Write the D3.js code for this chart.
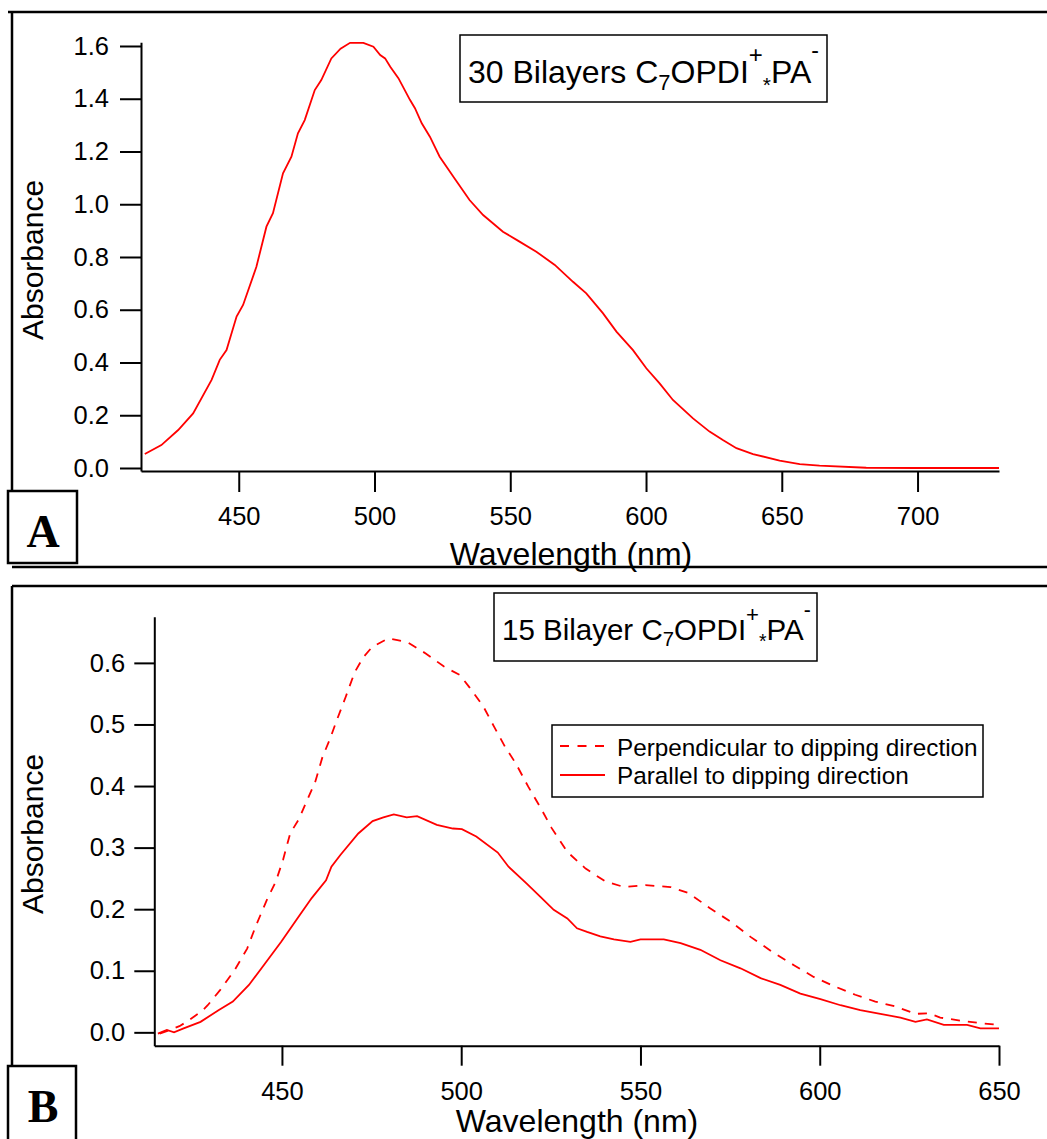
<!DOCTYPE html>
<html lang="en">
<head>
  <meta charset="UTF-8"/>
  <title>Absorbance spectra C7OPDI+*PA-</title>
  <script src="https://d3js.org/d3.v7.min.js"></script>
  <style>
    body { margin: 0; background: #fff; }
    svg { display: block; }
    text { font-family: "Liberation Sans", Arial, sans-serif; fill: #000; }
    .tick text { font-size: 25.5px; }
    .axis path, .axis line { stroke: #000; stroke-width: 2; }
    .label { font-size: 32px; }
    .ylabel { font-size: 30px; }
    .panel { font-family: "Liberation Serif", "Times New Roman", serif; font-weight: bold; font-size: 46px; }
    .frame { stroke: #000; stroke-width: 2.5; fill: none; }
    .spec { fill: none; stroke: #ff0000; stroke-width: 1.8; }
  </style>
</head>
<body>
<svg width="1047" height="1139"></svg>
<script>
  // panel A : 30 bilayers
  const wavelengthA = [415.4, 421.5, 427.7, 433.2, 440, 443, 445.5, 449.2, 451.6, 456.5, 460.2, 462.6, 466.3, 469.4,
    471.8, 474.3, 478, 480.4, 484.1, 487.5, 491, 495.9, 499.6, 502.1, 503.9, 505.8, 508.8, 513.1, 514.9, 517.4,
    520.4, 524, 529.5, 535, 540, 547.3, 552.8, 559.6, 566.4, 573.1, 578, 584.1, 589.1, 595.2, 600.1, 605, 609.9,
    617.3, 623.4, 628.3, 633.3, 639.4, 649.2, 656.6, 663.9, 681.1, 700, 730]
  const absorbA = [0.053, 0.087, 0.144, 0.207, 0.334, 0.41, 0.447, 0.574, 0.618, 0.763, 0.915, 0.966, 1.117, 1.18,
    1.269, 1.319, 1.433, 1.471, 1.553, 1.59, 1.612, 1.612, 1.597, 1.566, 1.553, 1.521, 1.478, 1.395, 1.364, 1.307,
    1.256, 1.18, 1.098, 1.016, 0.959, 0.896, 0.862, 0.82, 0.77, 0.706, 0.662, 0.587, 0.517, 0.447, 0.378, 0.321, 0.258,
    0.188, 0.138, 0.106, 0.075, 0.053, 0.028, 0.015, 0.009, 0.001, 0, 0]

  // panel B : 15 bilayers, parallel (solid)
  const wavelengthPar = [415.4, 417.9, 419.9, 422.4, 427.3, 432.3, 436.3, 440.8, 444.3, 449.8, 454.3, 458.3, 462.3,
    463.8, 466.3, 471.3, 475.3, 478.3, 481.2, 484.8, 487.7, 493.2, 497.7, 500.2, 504.2, 510.2, 513.2, 518.2, 522.1,
    525.8, 529.6, 532.3, 535.1, 538.8, 542.6, 547.2, 550, 556.5, 561.2, 566.7, 572.3, 577.9, 583.5, 589, 594.6,
    600.2, 605.8, 611.3, 616.9, 622.5, 626.7, 629.9, 634.6, 641.1, 644.8, 650]
  const absorbPar = [-0.002, 0.004, 0, 0.006, 0.017, 0.036, 0.05, 0.077, 0.104, 0.147, 0.185, 0.218, 0.247,
    0.269, 0.288, 0.323, 0.343, 0.349, 0.354, 0.349, 0.351, 0.337, 0.331, 0.33, 0.318, 0.292, 0.269, 0.242, 0.22,
    0.199, 0.185, 0.169, 0.163, 0.156, 0.151, 0.147, 0.151, 0.151, 0.145, 0.134, 0.117, 0.104, 0.088, 0.077, 0.063,
    0.054, 0.044, 0.036, 0.03, 0.024, 0.017, 0.021, 0.012, 0.012, 0.0065, 0.0065]

  // panel B : perpendicular (dashed)
  const wavelengthPerp = [415.9, 418.4, 421.4, 423.4, 427.8, 429.3, 432.8, 436.8, 440.3, 442.8, 445.8, 448.3, 450.3,
    452.3, 454.8, 456.8, 459.3, 461.3, 463.3, 465.3, 467.8, 470.3, 472.8, 475.2, 479.7, 482.2, 485.2, 490.2, 495.2,
    499.7, 502.2, 506.2, 509.2, 512.2, 515.2, 518.7, 522.2, 525.2, 529.6, 534.7, 540.2, 545.4, 551.4, 558.4, 563.5,
    569.5, 575.1, 580.7, 586.7, 592.8, 598.3, 604.4, 609.9, 615.5, 621.1, 626.7, 630.4, 633.6, 639.2, 644.8, 650]
  const absorbPerp = [-0.002, 0.003, 0.01, 0.017, 0.035, 0.044, 0.069, 0.101, 0.136, 0.174, 0.215, 0.245, 0.28,
    0.323, 0.347, 0.374, 0.407, 0.447, 0.475, 0.507, 0.545, 0.585, 0.61, 0.626, 0.64, 0.637, 0.633, 0.615, 0.594,
    0.58, 0.561, 0.529, 0.496, 0.464, 0.437, 0.399, 0.364, 0.332, 0.293, 0.266, 0.245, 0.236, 0.239, 0.236, 0.226,
    0.201, 0.18, 0.155, 0.131, 0.109, 0.09, 0.074, 0.061, 0.05, 0.042, 0.03, 0.031, 0.024, 0.019, 0.015, 0.012]

  const xTicksA = [450, 500, 550, 600, 650, 700]
  const yTicksA = [0, 0.2, 0.4, 0.6, 0.8, 1.0, 1.2, 1.4, 1.6]
  const xTicksB = [450, 500, 550, 600, 650]
  const yTicksB = [0, 0.1, 0.2, 0.3, 0.4, 0.5, 0.6]
  const legendNames = ['Perpendicular to dipping direction', 'Parallel to dipping direction']

  const svg = d3.select('svg')

  // rich text with sub / superscripts, shift is px below the baseline
  function richText(x, y, parts) {
    const t = svg.append('text').attr('x', x).attr('y', y)
    let prev = 0
    parts.forEach(p => {
      t.append('tspan')
        .attr('dy', p.shift - prev)
        .style('font-size', p.size + 'px')
        .text(p.t)
      prev = p.shift
    })
    return t
  }

  function titleParts(first, s) {
    const k = s / 32
    return [
      { t: first, size: s, shift: 0 },
      { t: '7', size: 22 * k, shift: 7 * k },
      { t: 'OPDI', size: s, shift: 0 },
      { t: '+', size: 24 * k, shift: -20 * k },
      { t: '*', size: 21 * k, shift: 9 * k },
      { t: 'PA', size: s, shift: 0 },
      { t: '-', size: 23 * k, shift: -25 * k }
    ]
  }

  // ---------- frames ----------
  svg.append('path').attr('class', 'frame')
    .attr('d', 'M8,12H1047M12,12V491M12,567H1047M12,586H1047M12,586V1066')
  svg.append('rect').attr('class', 'frame').attr('x', 8).attr('y', 491).attr('width', 69).attr('height', 72)
  svg.append('rect').attr('class', 'frame').attr('x', 8).attr('y', 1066).attr('width', 68).attr('height', 90)
  svg.append('text').attr('class', 'panel').attr('x', 43).attr('y', 547).attr('text-anchor', 'middle').text('A')
  svg.append('text').attr('class', 'panel').attr('x', 43).attr('y', 1122).attr('text-anchor', 'middle').text('B')

  // ---------- panel A ----------
  const xA = d3.scaleLinear().domain([414, 730]).range([141, 999])
  const yA = d3.scaleLinear().domain([-0.0114, 1.614]).range([471, 42.3])

  svg.append('g').attr('class', 'axis')
    .attr('transform', 'translate(0,471)')
    .call(d3.axisBottom(xA).tickValues(xTicksA).tickFormat(d3.format('d'))
      .tickSize(21).tickSizeOuter(0).tickPadding(15))
  svg.append('g').attr('class', 'axis')
    .attr('transform', 'translate(141,0)')
    .call(d3.axisLeft(yA).tickValues(yTicksA).tickFormat(d3.format('.1f'))
      .tickSize(21).tickSizeOuter(0).tickPadding(11))
  svg.selectAll('.axis text').attr('font-family', null).attr('font-size', null)

  svg.append('path')
    .datum(d3.zip(wavelengthA, absorbA))
    .attr('class', 'spec')
    .attr('d', d3.line().x(d => xA(d[0])).y(d => yA(d[1])))

  svg.append('text').attr('class', 'label')
    .attr('x', 571).attr('y', 565).attr('text-anchor', 'middle').text('Wavelength (nm)')
  svg.append('text').attr('class', 'ylabel')
    .attr('transform', 'translate(43,260) rotate(-90)').attr('text-anchor', 'middle').text('Absorbance')

  svg.append('rect').attr('x', 460).attr('y', 35).attr('width', 367).attr('height', 67)
    .attr('fill', '#fff').attr('stroke', '#000').attr('stroke-width', 1.5)
  richText(468, 83, titleParts('30 Bilayers C', 32))

  // ---------- panel B ----------
  const xB = d3.scaleLinear().domain([414.4, 650]).range([154.3, 999])
  const yB = d3.scaleLinear().domain([-0.0217, 0.675]).range([1045.7, 616.7])

  svg.append('g').attr('class', 'axis')
    .attr('transform', 'translate(0,1045.7)')
    .call(d3.axisBottom(xB).tickValues(xTicksB).tickFormat(d3.format('d'))
      .tickSize(20).tickSizeOuter(0).tickPadding(16))
  svg.append('g').attr('class', 'axis')
    .attr('transform', 'translate(154.3,0)')
    .call(d3.axisLeft(yB).tickValues(yTicksB).tickFormat(d3.format('.1f'))
      .tickSize(20).tickSizeOuter(0).tickPadding(9))
  svg.selectAll('.axis text').attr('font-family', null).attr('font-size', null)

  const lineB = d3.line().x(d => xB(d[0])).y(d => yB(d[1]))
  svg.append('path')
    .datum(d3.zip(wavelengthPerp, absorbPerp))
    .attr('class', 'spec')
    .attr('stroke-dasharray', '9,8')
    .attr('d', lineB)
  svg.append('path')
    .datum(d3.zip(wavelengthPar, absorbPar))
    .attr('class', 'spec')
    .attr('d', lineB)

  svg.append('text').attr('class', 'label')
    .attr('x', 577).attr('y', 1132).attr('text-anchor', 'middle').text('Wavelength (nm)')
  svg.append('text').attr('class', 'ylabel')
    .attr('transform', 'translate(43,834) rotate(-90)').attr('text-anchor', 'middle').text('Absorbance')

  svg.append('rect').attr('x', 494).attr('y', 593).attr('width', 323).attr('height', 68)
    .attr('fill', '#fff').attr('stroke', '#000').attr('stroke-width', 1.5)
  richText(502, 640, titleParts('15 Bilayer C', 29.5))

  // legend
  const legend = svg.append('g').attr('transform', 'translate(552,725)')
  legend.append('rect').attr('width', 431).attr('height', 72)
    .attr('fill', '#fff').attr('stroke', '#000').attr('stroke-width', 1.5)
  legendNames.forEach((name, i) => {
    legend.append('line')
      .attr('x1', 8).attr('x2', 53).attr('y1', 21 + i * 29).attr('y2', 21 + i * 29)
      .attr('stroke', '#ff0000').attr('stroke-width', 1.8)
      .attr('stroke-dasharray', i === 0 ? '9,8.5' : null)
    legend.append('text')
      .attr('x', 65).attr('y', 31 + i * 28)
      .style('font-size', '24.3px')
      .text(name)
  })
</script>
</body>
</html>
